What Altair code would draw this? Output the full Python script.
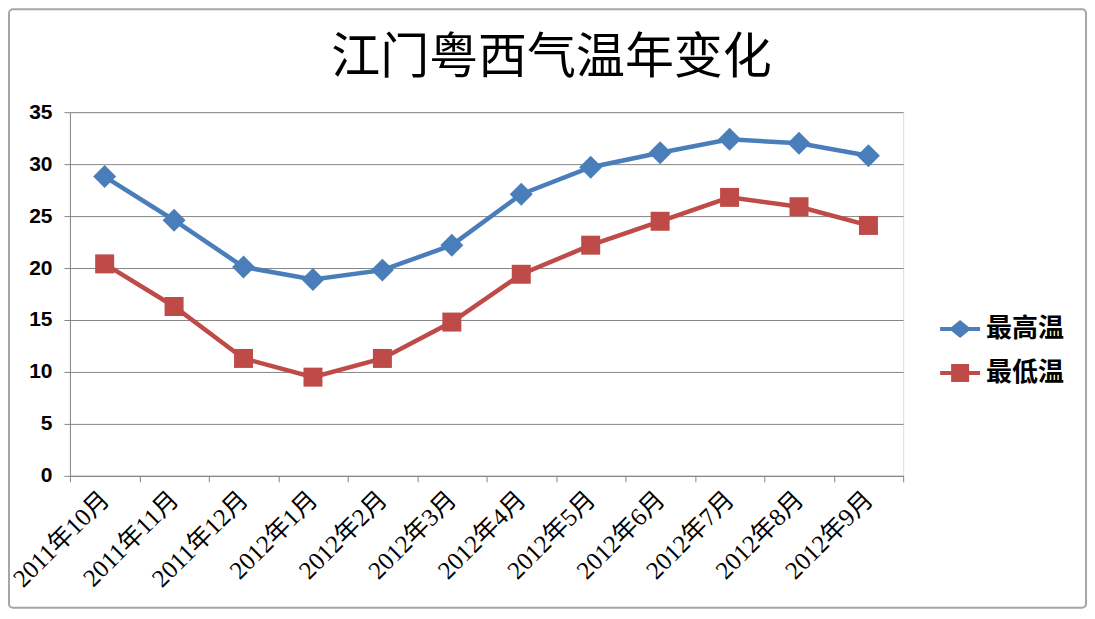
import altair as alt
import pandas as pd

months = ["2011年10月", "2011年11月", "2011年12月", "2012年1月", "2012年2月", "2012年3月",
          "2012年4月", "2012年5月", "2012年6月", "2012年7月", "2012年8月", "2012年9月"]
series_names = ["最高温", "最低温"]
high = [28.8, 24.6, 20.1, 18.9, 19.8, 22.2, 27.1, 29.7, 31.1, 32.4, 32.0, 30.8]
low = [20.4, 16.3, 11.3, 9.5, 11.3, 14.8, 19.4, 22.2, 24.5, 26.8, 25.9, 24.1]
y_ticks = [0, 5, 10, 15, 20, 25, 30, 35]

rows = []
for m, h, l in zip(months, high, low):
    rows.append({"month": m, "series": series_names[0], "value": h})
    rows.append({"month": m, "series": series_names[1], "value": l})
df = pd.DataFrame(rows)

colors = ["#4A7EBB", "#BE4B48"]
marker_paths = ["M0,-1.15L1.15,0L0,1.15L-1.15,0Z", "M-0.95,-0.95H0.95V0.95H-0.95Z"]
legend_paths = [
    "M-2,-0.2H-0.86L0,-0.9L0.86,-0.2H2V0.2H0.86L0,0.9L-0.86,0.2H-2Z",
    "M-2,-0.2H-0.9V-0.9H0.9V-0.2H2V0.2H0.9V0.9H-0.9V0.2H-2Z",
]

W, H = 834, 364
PL, PT, PR, PB = 62, 104, 184, 133

x_enc = alt.X("month:N", sort=months, title=None,
              scale=alt.Scale(type="band", paddingInner=0, paddingOuter=0),
              axis=alt.Axis(tickBand="extent", labelAngle=-45, labelAlign="right",
                            labelBaseline="middle", labelFont="Liberation Serif, Noto Sans CJK SC",
                            labelFontSize=25, labelColor="#000000", labelPadding=13,
                            domainColor="#868686", tickColor="#868686", tickSize=6,
                            labelLimit=0, grid=False))
y_enc = alt.Y("value:Q", title=None,
              scale=alt.Scale(domain=[0, 35], nice=False, zero=True),
              axis=alt.Axis(values=y_ticks, labelFont="Liberation Sans", labelFontWeight="bold",
                            labelFontSize=21, labelColor="#000000", labelPadding=12,
                            domainColor="#868686", tickColor="#868686", tickSize=6,
                            gridColor="#868686", gridWidth=1))

color_scale = alt.Scale(domain=series_names, range=colors)

base = alt.Chart(df)

lines = base.mark_line(strokeWidth=4.5).encode(
    x=x_enc, y=y_enc,
    color=alt.Color("series:N", scale=color_scale, legend=None),
    detail="series:N",
)

points = base.mark_point(filled=True, size=400, opacity=1, strokeWidth=0).encode(
    x=x_enc, y=y_enc,
    color=alt.Color("series:N", scale=color_scale, legend=None),
    shape=alt.Shape("series:N", scale=alt.Scale(domain=series_names, range=marker_paths), legend=None),
)

leg = alt.Legend(orient="none", legendX=878, legendY=204, padding=0,
                 labelFont="Noto Sans CJK SC", labelFontSize=26, labelFontWeight="bold",
                 labelColor="#000000", labelOffset=13, rowPadding=18,
                 symbolSize=400, symbolStrokeWidth=0, symbolOpacity=1)

legend_layer = base.transform_filter("datum.value < -1000").mark_point(
    filled=True, size=400, opacity=1, strokeWidth=0).encode(
    x=x_enc, y=y_enc,
    color=alt.Color("series:N", scale=color_scale, title=None, legend=leg),
    shape=alt.Shape("series:N", scale=alt.Scale(domain=series_names, range=legend_paths),
                    title=None, legend=leg),
)

border = alt.Chart(pd.DataFrame({"a": [0]})).mark_rect(
    fill=None, stroke="#A6A6A6", strokeWidth=2, cornerRadius=4).encode(
    x=alt.value(-PL + 1), x2=alt.value(W + PR - 1),
    y=alt.value(-PT + 1), y2=alt.value(H + PB - 1),
)

chart = alt.layer(border, lines, points, legend_layer).resolve_scale(
    color="independent", shape="independent"
).properties(
    width=W, height=H,
    padding={"left": PL, "top": PT, "right": PR, "bottom": PB},
    autosize=alt.AutoSizeParams(type="none"),
    title=alt.TitleParams("江门粤西气温年变化", font="Noto Sans CJK SC", fontSize=49,
                          fontWeight="normal", color="#000000", anchor="middle",
                          frame="group", offset=-75, dx=65),
).configure_view(stroke=None).configure(background="#FFFFFF")

chart.save("out.html", embed_options={"renderer": "svg", "actions": False})
